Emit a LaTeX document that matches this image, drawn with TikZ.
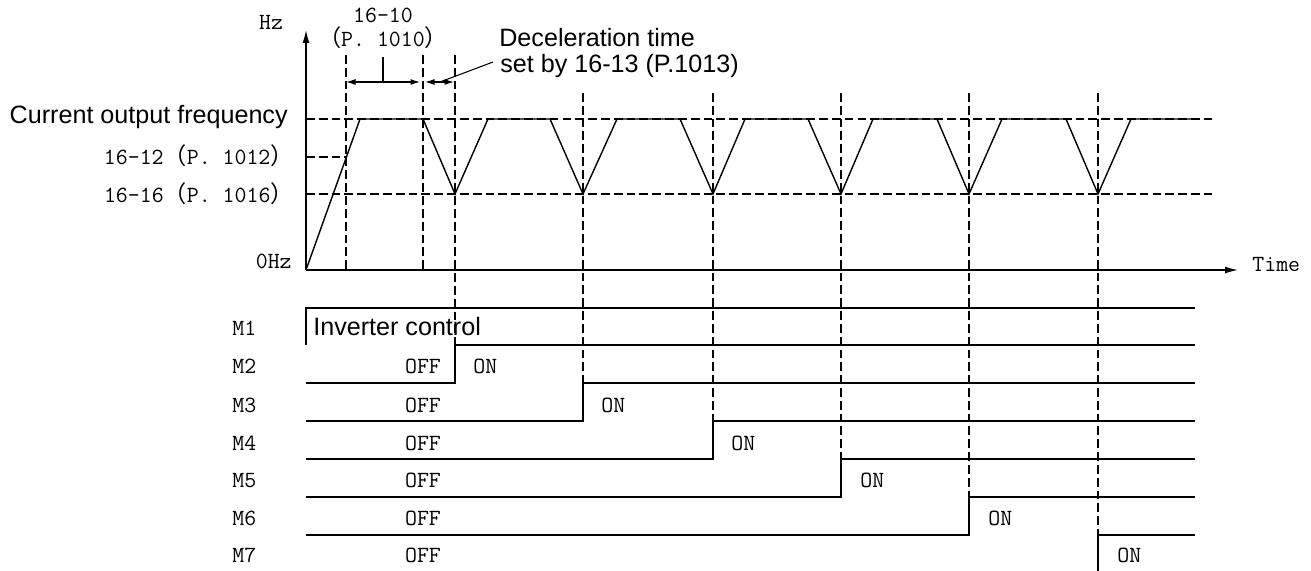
\documentclass[tikz,border=0pt]{standalone}
\usepackage{fontspec}
\setmainfont{Liberation Sans}
\newfontfamily\cjk{Noto Sans CJK SC}
\usetikzlibrary{arrows.meta,positioning}
\newcommand{\lpar}{{\cjk （}}
\newcommand{\rpar}{{\cjk ）}}

\begin{document}
\begin{tikzpicture}[
    x=0.02cm, y=-0.02cm,
    every node/.style={inner sep=0pt},
    lbl/.style={font=\fontsize{13.2}{15}\selectfont\ttfamily},
    note/.style={font=\fontsize{14.3}{16}\selectfont},
    sig/.style={line width=0.8pt},
    guide/.style={line width=0.7pt, dash pattern=on 5pt off 2.3pt},
    axis/.style={-{Latex[length=2.6mm,width=1.4mm]}, line width=0.8pt},
    dim/.style={{Latex[length=1.9mm,width=1.2mm]}-{Latex[length=1.9mm,width=1.2mm]}, line width=0.7pt}
]
\useasboundingbox (0,0) rectangle (1311,571);

% axes and their labels
\coordinate (orig) at (306,270);
\coordinate (ytip) at (306,30);
\coordinate (xtip) at (1238,270);
\draw[axis] (orig) -- (ytip);
\draw[axis] (orig) -- (xtip);
\node[lbl, anchor=base] (hz) at (271,30) {Hz};
\node[lbl, anchor=base west] (time) at (1252,271) {Time};
\node[lbl, anchor=base east] (zero) at (292,268) {0Hz};

% frequency levels
\node[note, anchor=base east] (fout) at (288,123) {Current output frequency};
\node[lbl, anchor=base east] (p1012) at (294,164) {16-12\lpar P. 1012\rpar};
\node[lbl, anchor=base east] (p1016) at (294,202) {16-16\lpar P. 1016\rpar};
\draw[guide] (306,119) -- (1212,119);
\draw[guide] (306,157) -- (346,157);
\draw[guide] (306,194) -- (1212,194);

% time marks
\draw[guide] (346,55) -- (346,270);
\draw[guide] (423,55) -- (423,270);
\draw[guide] (455,55) -- (455,345);
\draw[guide] (583,93) -- (583,383);
\draw[guide] (713,93) -- (713,421);
\draw[guide] (841,93) -- (841,459);
\draw[guide] (969,93) -- (969,497);
\draw[guide] (1098,93) -- (1098,535);

% output frequency
\draw[sig] (orig) -- (360,119) -- (423,119) -- (455,194) -- (488,119)
  -- (550,119) -- (583,194) -- (617,119) -- (680,119) -- (713,194) -- (745,119)
  -- (808,119) -- (841,194) -- (873,119) -- (937,119) -- (969,194) -- (1002,119)
  -- (1066,119) -- (1098,194) -- (1131,119) -- (1197,119);

% dimensions
\node[lbl, anchor=base] (t1010) at (383,23) {16-10};
\node[lbl, anchor=base] (p1010) at (383,47) {\lpar P. 1010\rpar};
\coordinate (wa) at (346,82);
\coordinate (wb) at (420,82);
\coordinate (wc) at (425,82);
\coordinate (wd) at (454,82);
\coordinate (wtick) at (383,57);
\draw[dim] (wa) -- (wb);
\draw[sig] (wtick) -- (wtick |- wa);
\draw[dim] (wc) -- (wd);
\node[note, anchor=base west] (dec) at (499,47) {Deceleration time};
\node[note, anchor=base west] (dec2) at (500,72) {set by 16-13 (P.1013)};
\coordinate (lead) at (493,62);
\draw[sig, line width=0.6pt] (440,82) -- (lead);

% motor signals
\node[lbl, anchor=base west] (m1) at (232,335) {M1};
\node[lbl, anchor=base west] (m2) at (232,373) {M2};
\node[lbl, anchor=base west] (m3) at (232,412) {M3};
\node[lbl, anchor=base west] (m4) at (232,450) {M4};
\node[lbl, anchor=base west] (m5) at (232,487) {M5};
\node[lbl, anchor=base west] (m6) at (232,525) {M6};
\node[lbl, anchor=base west] (m7) at (232,562) {M7};

\draw[sig] (306,345) -- (306,308) -- (1195,308);
\node[note, anchor=base west] (inv) at (313,335) {Inverter control};
\draw[sig] (306,383) -- (455,383) -- (455,345) -- (1195,345);
\draw[sig] (306,421) -- (583,421) -- (583,383) -- (1195,383);
\draw[sig] (306,459) -- (713,459) -- (713,421) -- (1195,421);
\draw[sig] (306,497) -- (841,497) -- (841,459) -- (1195,459);
\draw[sig] (306,535) -- (969,535) -- (969,497) -- (1195,497);
\draw[sig] (1098,571) -- (1098,535) -- (1195,535);

\node[lbl, anchor=base] (off2) at (423,373) {OFF};
\node[lbl, anchor=base] (off3) at (423,412) {OFF};
\node[lbl, anchor=base] (off4) at (423,450) {OFF};
\node[lbl, anchor=base] (off5) at (423,487) {OFF};
\node[lbl, anchor=base] (off6) at (423,525) {OFF};
\node[lbl, anchor=base] (off7) at (423,562) {OFF};

\node[lbl, anchor=base west] (on2) at (473,373) {ON};
\node[lbl, anchor=base west] (on3) at (601,412) {ON};
\node[lbl, anchor=base west] (on4) at (731,450) {ON};
\node[lbl, anchor=base west] (on5) at (860,487) {ON};
\node[lbl, anchor=base west] (on6) at (988,525) {ON};
\node[lbl, anchor=base west] (on7) at (1117,562) {ON};
\end{tikzpicture}
\end{document}
